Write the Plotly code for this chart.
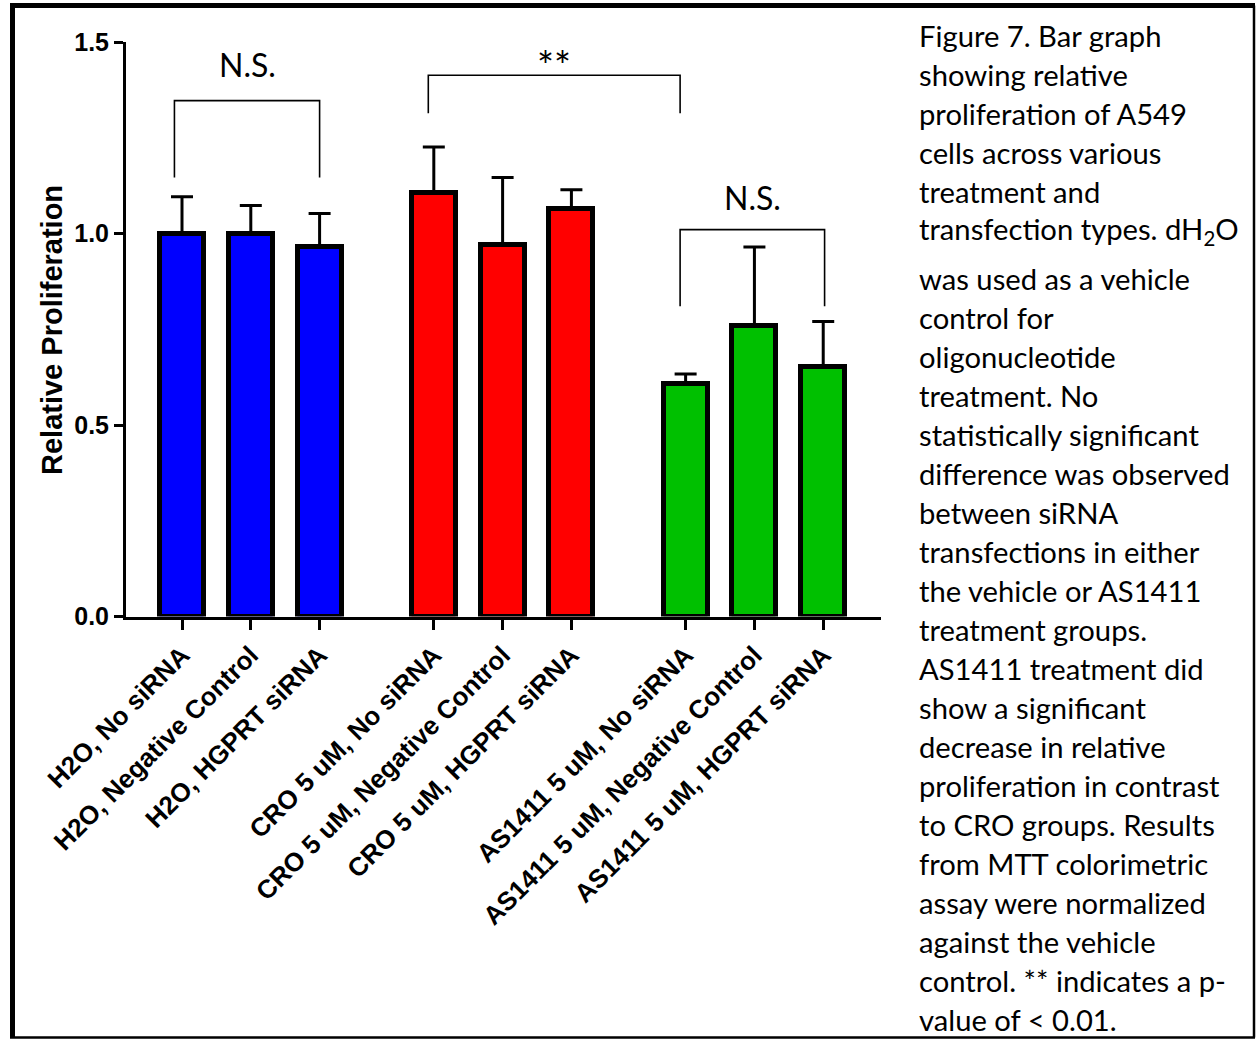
import plotly.graph_objects as go

# ---- data -------------------------------------------------------------
categories = [
    "H2O, No siRNA", "H2O, Negative Control", "H2O, HGPRT siRNA",
    "CRO 5 uM, No siRNA", "CRO 5 uM, Negative Control", "CRO 5 uM, HGPRT siRNA",
    "AS1411 5 uM, No siRNA", "AS1411 5 uM, Negative Control", "AS1411 5 uM, HGPRT siRNA",
]
group_of_bar = [0, 0, 0, 1, 1, 1, 2, 2, 2]
group_colors = ["#0000FF", "#FF0000", "#00C000"]
means = [1.00, 1.00, 0.966, 1.105, 0.971, 1.065, 0.607, 0.759, 0.651]
errors = [0.096, 0.073, 0.086, 0.121, 0.175, 0.049, 0.026, 0.206, 0.119]

y_tick_vals = [0.0, 0.5, 1.0, 1.5]
y_tick_text = ["0.0", "0.5", "1.0", "1.5"]

# significance brackets: (left bar, right bar, top, leg bottom, label)
comparisons = [
    (0, 2, 1.347, 1.146, "N.S."),
    (3, 6, 1.413, 1.314, "**"),
    (6, 8, 1.010, 0.810, "N.S."),
]

caption = [
    "Figure 7. Bar graph",
    "showing relative",
    "proliferation of A549",
    "cells across various",
    "treatment and",
    "transfection types. dH<sub>2</sub>O",
    "was used as a vehicle",
    "control for",
    "oligonucleotide",
    "treatment. No",
    "statistically significant",
    "difference was observed",
    "between siRNA",
    "transfections in either",
    "the vehicle or AS1411",
    "treatment groups.",
    "AS1411 treatment did",
    "show a significant",
    "decrease in relative",
    "proliferation in contrast",
    "to CRO groups. Results",
    "from MTT colorimetric",
    "assay were normalized",
    "against the vehicle",
    "control. ** indicates a p-",
    "value of < 0.01.",
]

# ---- layout helpers ---------------------------------------------------
W, H = 1256, 1040
GROUP_GAP = 0.66
xpos = [i + GROUP_GAP * g for i, g in enumerate(group_of_bar)]
colors = [group_colors[g] for g in group_of_bar]

PLOT_L, PLOT_R = 126, 881      # pixel extents of the plotting area
PLOT_T, PLOT_B = 42, 616.5
X_PER_UNIT = 68.8
x_lo = (PLOT_L - 182) / X_PER_UNIT
x_hi = x_lo + (PLOT_R - PLOT_L) / X_PER_UNIT

ARIAL = "Liberation Sans, Arial, sans-serif"
TEXT_FONT = "Lato, Carlito, Calibri, sans-serif"


def px(x):
    return x / W


def py(y):
    return 1 - y / H


fig = go.Figure()

fig.add_trace(go.Bar(
    x=xpos,
    y=means,
    width=0.64,
    marker=dict(color=colors, line=dict(color="black", width=5)),
    error_y=dict(type="data", array=errors, arrayminus=[0] * len(errors),
                 symmetric=False, color="black", thickness=3, width=11),
    showlegend=False,
))

# significance brackets and their labels
leg_offsets = {0: (-0.11, 0.0), 1: (-0.08, -0.08), 2: (-0.08, 0.02)}
label_lift = {0: 0.095, 1: 0.025, 2: 0.083}
label_size = {0: 32, 1: 40, 2: 32}
for k, (a, b, top, bottom, label) in enumerate(comparisons):
    xa = xpos[a] + leg_offsets[k][0]
    xb = xpos[b] + leg_offsets[k][1]
    fig.add_trace(go.Scatter(
        x=[xa, xa, xb, xb], y=[bottom, top, top, bottom],
        mode="lines", line=dict(color="black", width=1.6),
        showlegend=False, hoverinfo="skip",
    ))
    fig.add_annotation(
        x=(xa + xb) / 2, y=top + label_lift[k], xref="x", yref="y",
        text=label, showarrow=False, xanchor="center", yanchor="middle",
        font=dict(family=TEXT_FONT, size=label_size[k], color="black"),
    )

# y-axis title
fig.add_annotation(
    x=px(52), y=py(330), xref="paper", yref="paper",
    text="Relative Proliferation", textangle=-90, showarrow=False,
    xanchor="center", yanchor="middle",
    font=dict(family=ARIAL, size=29, color="black", weight="bold"),
)

# figure caption on the right
CAP_SIZE = 29.2
first_base, step, sub_gap = 45.0, 39.0, 9
for i, line in enumerate(caption):
    base = first_base + step * i + (sub_gap if i >= 6 else 0)
    fig.add_annotation(
        x=px(917), y=py(base - 0.33 * CAP_SIZE), xref="paper", yref="paper",
        text=line, showarrow=False, xanchor="left", yanchor="middle", align="left",
        font=dict(family=TEXT_FONT, size=CAP_SIZE, color="black"),
    )

# outer frame
frame = [
    (12.5, 5.5, 12.5, 1037, 5),
    (10, 5.5, 1255, 5.5, 5),
    (1254, 5.5, 1254, 1037.5, 2.5),
    (10, 1037.5, 1255, 1037.5, 2.5),
]
for x0, y0, x1, y1, w in frame:
    fig.add_shape(type="line", xref="paper", yref="paper",
                  x0=px(x0), y0=py(y0), x1=px(x1), y1=py(y1),
                  line=dict(color="black", width=w))

fig.update_layout(
    width=W, height=H,
    margin=dict(l=0, r=0, t=0, b=0),
    paper_bgcolor="white", plot_bgcolor="white",
    bargap=0,
    xaxis=dict(
        domain=[px(PLOT_L), px(PLOT_R)], range=[x_lo, x_hi],
        showline=True, linecolor="black", linewidth=3,
        ticks="outside", ticklen=10, tickwidth=3, tickcolor="black",
        tickvals=xpos, ticktext=categories, tickangle=-45,
        tickfont=dict(family=ARIAL, size=26, color="black", weight="bold"),
        showgrid=False, zeroline=False, automargin=False,
    ),
    yaxis=dict(
        domain=[py(PLOT_B), py(PLOT_T)], range=[0, 1.5],
        showline=True, linecolor="black", linewidth=3,
        ticks="outside", ticklen=9, tickwidth=3, tickcolor="black",
        tickvals=y_tick_vals, ticktext=y_tick_text,
        tickfont=dict(family=ARIAL, size=25, color="black", weight="bold"),
        showgrid=False, zeroline=False, automargin=False,
    ),
)

fig.write_html("out.html")
